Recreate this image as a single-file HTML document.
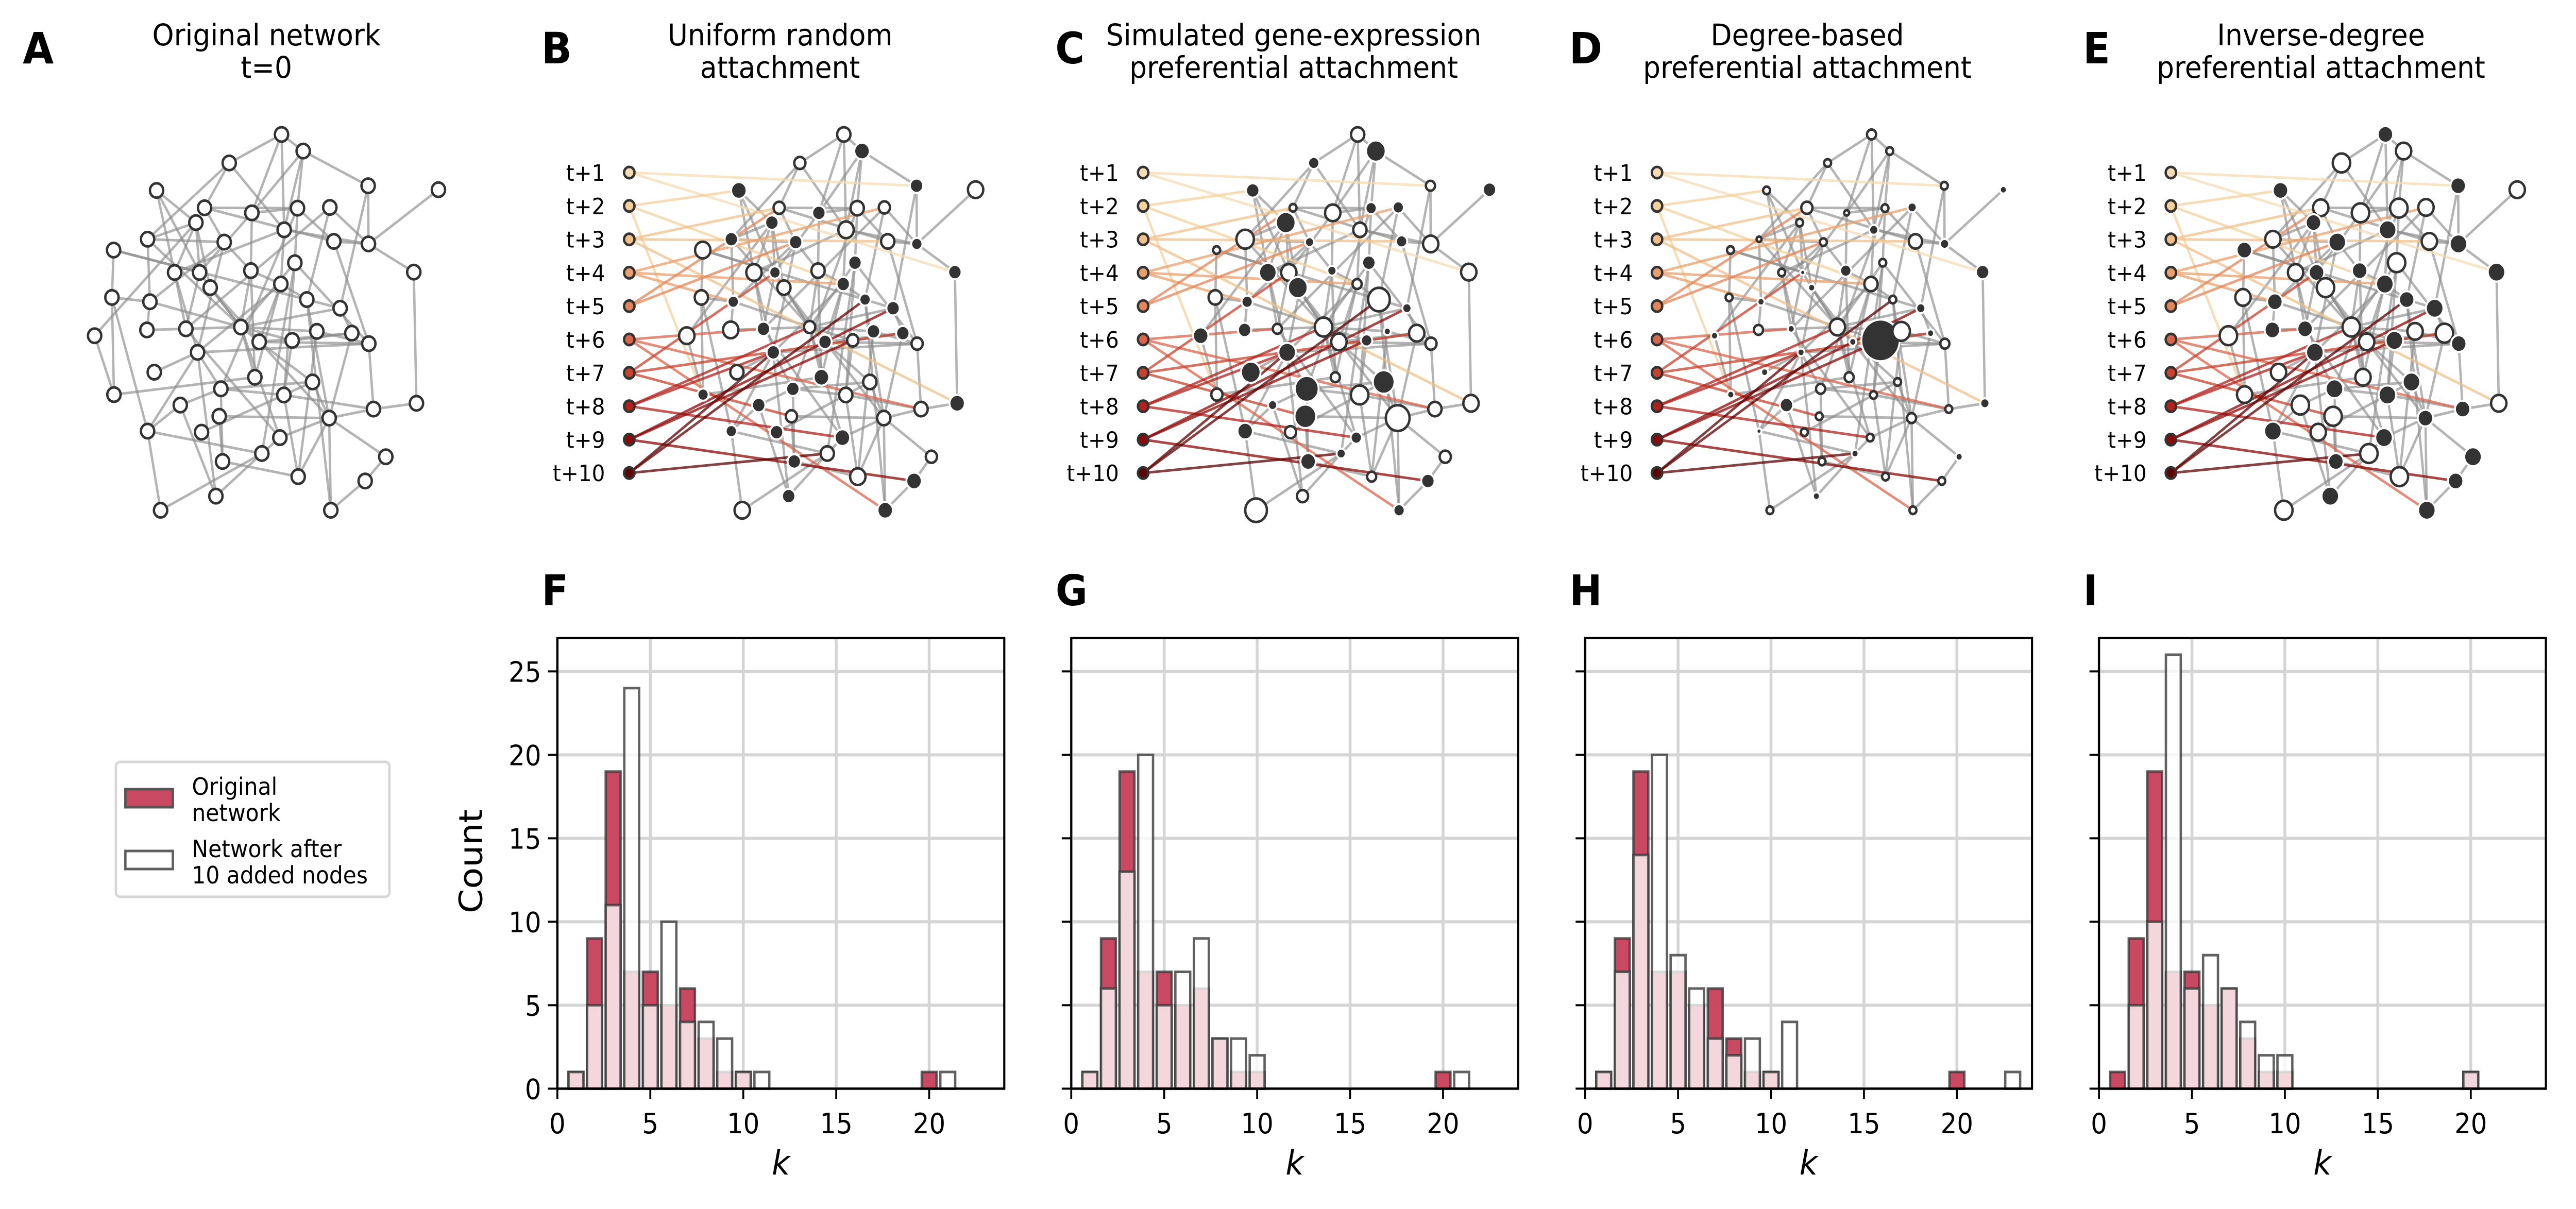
<!DOCTYPE html>
<html><head><meta charset="utf-8">
<style>
html,body{margin:0;padding:0;background:#fff;overflow:hidden;width:100%;height:100%;}
svg{display:block;width:100vw;height:100vh;font-family:"DejaVu Sans","Liberation Sans",sans-serif;}
</style></head>
<body>
<svg id="fig" viewBox="0 0 5424 2347" preserveAspectRatio="none" xmlns="http://www.w3.org/2000/svg">
<rect width="5424" height="2347" fill="#fff"/>
<g id="networks"></g>
<g id="hists"></g>
<g id="legend">
  <rect x="244" y="1479" width="576" height="262" rx="9" fill="#fff" stroke="#d6d6d6" stroke-width="5"/>
  <rect x="264" y="1532" width="100" height="35" fill="#c94862" stroke="#555" stroke-width="5"/>
  <text x="404" y="1543" font-size="46">Original</text>
  <text x="404" y="1594" font-size="46">network</text>
  <rect x="264" y="1652" width="100" height="35" fill="#fff" stroke="#5e5e5e" stroke-width="5"/>
  <text x="404" y="1664" font-size="46">Network after</text>
  <text x="404" y="1715" font-size="46">10 added nodes</text>
</g>
</svg>
<script>
// ---------------- histogram data ----------------
const kTicks = [0,5,10,15,20];
const countTicks = [0,5,10,15,20,25];
const histLetters = ["F","G","H","I"];
const origCounts = [0,1,9,19,7,7,5,6,3,1,1,0,0,0,0,0,0,0,0,0,1,0,0,0];
const newCountsF = [0,1,5,11,24,5,10,4,4,3,1,1,0,0,0,0,0,0,0,0,0,1,0,0];
const newCountsG = [0,1,6,13,20,5,7,9,3,3,2,0,0,0,0,0,0,0,0,0,0,1,0,0];
const newCountsH = [0,1,7,14,20,8,6,3,2,3,1,4,0,0,0,0,0,0,0,0,0,0,0,1];
const newCountsI = [0,0,5,10,26,6,8,6,4,2,2,0,0,0,0,0,0,0,0,0,1,0,0,0];
const newCountsAll = [newCountsF,newCountsG,newCountsH,newCountsI];

// ---------------- network data ----------------
const nodePos = [[845,372],[910,418],[688,451],[1105,514],[1316,525],[470,527],[614,575],[756,589],[893,576],[990,574],
[588,616],[853,636],[443,662],[673,670],[1002,668],[1106,675],[341,692],[885,727],[1242,753],[524,754],
[599,754],[753,749],[631,796],[843,786],[336,823],[450,835],[921,829],[1021,853],[284,929],[441,913],
[558,910],[723,905],[778,946],[877,942],[951,917],[1056,922],[1107,951],[593,975],[463,1030],[765,1044],
[938,1057],[342,1092],[663,1076],[852,1093],[541,1121],[1121,1132],[1250,1116],[658,1152],[988,1157],[443,1193],
[605,1196],[840,1211],[786,1255],[1158,1264],[668,1277],[895,1319],[1096,1331],[648,1373],[482,1412],[993,1412]];
const edgeList = [[1,2],[1,3],[1,8],[1,12],[2,4],[2,9],[2,8],[3,7],[3,12],[4,16],[4,28],[5,16],[6,11],[6,20],[6,21],
[7,9],[7,15],[8,9],[8,22],[9,18],[9,15],[10,16],[10,27],[11,21],[11,23],[11,20],[11,13],[12,24],[12,16],[13,14],
[13,26],[13,32],[14,22],[14,38],[15,37],[16,19],[17,25],[17,27],[17,21],[18,32],[18,44],[18,37],[19,47],[20,38],
[20,31],[21,23],[21,31],[22,24],[22,32],[23,32],[23,49],[24,27],[24,33],[25,42],[25,26],[25,50],[26,30],[26,32],
[26,14],[27,49],[28,36],[29,11],[29,42],[30,31],[31,32],[32,33],[32,34],[32,35],[32,52],[33,37],[33,36],[33,41],
[34,44],[34,36],[35,37],[35,56],[37,46],[37,38],[38,39],[38,43],[38,50],[38,58],[40,42],[41,43],[41,49],[43,44],
[43,45],[43,55],[44,46],[45,50],[45,58],[46,47],[46,49],[48,49],[48,55],[49,52],[49,56],[49,60],[49,54],[50,53],
[50,59],[51,41],[52,53],[53,58],[53,59],[55,56],[56,44],[57,60],[57,54],[24,40],[22,40],[12,20],[9,43],[10,31],
[8,21],[3,13],[18,53],[24,38],[27,60],[31,52],[32,28],[7,14],[15,16],[27,28],[32,23],[36,49],[2,12],[32,40]];
const panelTitles1 = ["Original network","Uniform random","Simulated gene-expression","Degree-based","Inverse-degree"];
const panelTitles2 = ["t=0","attachment","preferential attachment","preferential attachment","preferential attachment"];
const panelLetters = ["A","B","C","D","E"];
const tLabels = ["t+1","t+2","t+3","t+4","t+5","t+6","t+7","t+8","t+9","t+10"];
const tColors = ["#f6dcb4","#f3d19c","#efc08a","#e8a06e","#e2855b","#d9654c","#c7432f","#b2221c","#8c0909","#5e0303"];
const nodeFills = [
 "oooooooooooooooooooooooooooooooooooooooooooooooooooooooooooo",
 "ofofofofoofoffofoffofoofofffoofofoffofofoffofofoofffoofoffof",
 "offoffoofffooffoofofoffoofofffoooffooffofofofoofofoffofofoof",
 "oooofoooofofooofoofofffoofoffofoffofoffoofoofofoofooffooofoo",
 "foofofooooffofoffofoffofofffoffoofooffoofoffofooffofoffoffof"];
const nodeSizes = [
 "555555555555555555555555555555555555555555555555555555555555",
 "564566455456555465564555544566545455455654555564545654566566",
 "584355264485734625676383549365376426478394a73569a64434635494",
 "322222412323125322521425222323262h72322322325232312222222222",
 "667666677667676767766677666776676767676676777667676777676777"];
const newTargets = [
 [[0,3],[0,18]],[[2,5],[2,23],[2,41]],[[3,6],[3,14],[3,46]],[[4,9],[4,25],[4,23]],[[5,13],[5,6]],[[6,30],[6,45],[6,59]],
 [[7,35],[7,20],[7,47]],[[8,31],[8,37],[8,51]],[[9,27],[9,33],[9,56]],[[10,37],[10,26],[10,52]]
];

const NS="http://www.w3.org/2000/svg";
function mk(tag, attrs, parent){
  const e=document.createElementNS(NS,tag);
  for(const k in attrs) e.setAttribute(k,attrs[k]);
  parent.appendChild(e); return e;
}
function txt(parent,x,y,s,size,anchor,extra){
  const t=mk('text',Object.assign({x:x,y:y,'font-size':size,'text-anchor':anchor||'start',fill:'#000'},extra||{}),parent);
  t.textContent=s; return t;
}

// ---------------- networks ----------------
const netRoot=document.getElementById('networks');
for(let p=0;p<5;p++){
  const g=mk('g',{},netRoot);
  
  
  const titleCx = 561 + 1081.5*p;
  const lt=txt(g, p===0?48:1140+1082*(p-1), 123, panelLetters[p], 84, 'start', {'font-weight':'bold'});
  
  
  const t1=txt(g,titleCx,88,panelTitles1[p],58,'middle');
  
  
  txt(g,titleCx,151,panelTitles2[p],58,'middle');
  const X = p===0 ? (x=>x/1.4255) : (x=>1750+1082*(p-1)+0.84*(x/1.4255-561));
  const Y = y=>y/1.4255;
  const eg=mk('g',{stroke:'#8c8c8c','stroke-opacity':0.65,'stroke-width':5},g);
  edgeList.forEach(e=>{
    const a=nodePos[e[0]-1], b=nodePos[e[1]-1];
    const l=mk('line',{x1:X(a[0]),y1:Y(a[1]),x2:X(b[0]),y2:Y(b[1])},eg);
    
    
  });
  if(p>0){
    const tx=1325+1082*(p-1);
    newTargets.forEach((arr,j)=>{
      arr.forEach(tg=>{
        const b=nodePos[tg[1]];
        const l=mk('line',{x1:tx,y1:335+64.8*j,x2:X(b[0]),y2:Y(b[1]),stroke:tColors[j],'stroke-opacity':0.75,'stroke-width':5},g);
        
        
      });
    });
  }
  const ng=mk('g',{},g);
  nodePos.forEach((n,i)=>{
    const filled=nodeFills[p][i]==='f';
    const r=3+2.2*parseInt(nodeSizes[p][i],36);
    const c=mk('circle',{cx:X(n[0]),cy:Y(n[1]),r:r,fill:filled?'#333':'#fff',stroke:filled?'#fff':'#333','stroke-width':filled?4:5},ng);
    
    
  });
  if(p>0){
    const tx=1325+1082*(p-1);
    tLabels.forEach((s,j)=>{
      const y=335+64.8*j;
      const c=mk('circle',{cx:tx,cy:y,r:11,fill:tColors[j],stroke:'#333','stroke-width':5},g);
      
      
      const t=txt(g,tx-51,y+16,s,44,'end');
      
      
    });
  }
}

// ---------------- histograms ----------------
const hRoot=document.getElementById('hists');
const TOP=1238.6, BOT=2113.4, W=941, XMAX=24.04, YMAX=27;
for(let h=0;h<4;h++){
  const L=1173.6+1082*h;
  const xs=k=>L+k*(W/XMAX);
  const ys=c=>BOT-c*((BOT-TOP)/YMAX);
  const g=mk('g',{},hRoot);
  
  
  const lt=txt(g,L-33,1175,histLetters[h],82,'start',{'font-weight':'bold'});
  
  
  kTicks.forEach(k=>{ const l=mk('line',{x1:xs(k),x2:xs(k),y1:TOP,y2:BOT,stroke:'#d5d5d5','stroke-width':6},g);
      });
  countTicks.forEach(c=>{ const l=mk('line',{x1:L,x2:L+W,y1:ys(c),y2:ys(c),stroke:'#d5d5d5','stroke-width':6},g);
      });
  const bw=0.8;
  origCounts.forEach((c,k)=>{ if(!c) return;
    const r=mk('rect',{x:xs(k-bw/2),y:ys(c),width:xs(bw)-xs(0),height:ys(0)-ys(c),fill:'#c94862',stroke:'#3a3a3a','stroke-opacity':0.8,'stroke-width':5},g);
    
    
  });
  newCountsAll[h].forEach((c,k)=>{ if(!c) return;
    const r=mk('rect',{x:xs(k-bw/2),y:ys(c),width:xs(bw)-xs(0),height:ys(0)-ys(c),fill:'#fff','fill-opacity':0.78,stroke:'#3a3a3a','stroke-opacity':0.8,'stroke-width':5},g);
    
    
  });
  const sp=mk('rect',{x:L,y:TOP,width:W,height:BOT-TOP,fill:'none',stroke:'#000','stroke-width':4.5},g);
  
  
  kTicks.forEach(k=>{
    mk('line',{x1:xs(k),x2:xs(k),y1:BOT,y2:BOT+20,stroke:'#000','stroke-width':4},g);
    const t=txt(g,xs(k),2200,String(k),54,'middle');
    
    
  });
  countTicks.forEach(c=>{
    mk('line',{x1:L-20,x2:L,y1:ys(c),y2:ys(c),stroke:'#000','stroke-width':4},g);
    if(h===0){
      const t=txt(g,L-34,ys(c)+20,String(c),54,'end');
      
      
    }
  });
  const xl=txt(g,L+W/2,2280,'k',66,'middle',{'font-style':'italic'});
  
  
  if(h===0){
    const yl=txt(g,0,0,'Count',68,'middle',{transform:'translate(1015,1672) rotate(-90)'});
    
    
  }
}
</script>
</body></html>
